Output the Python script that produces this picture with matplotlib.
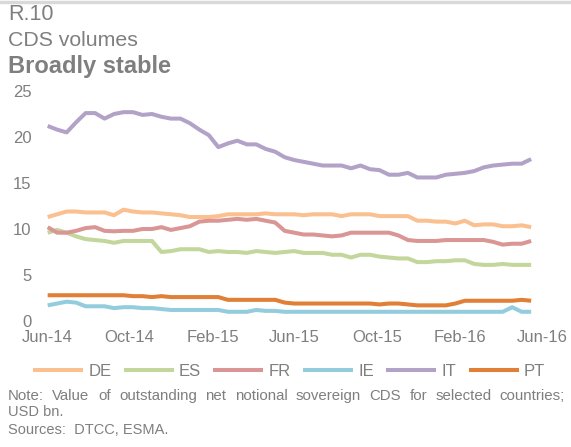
import matplotlib
matplotlib.use("Agg")
import matplotlib.pyplot as plt
import matplotlib.dates as mdates
import pandas as pd

# biweekly observations, Jun-14 to May-16
dates = pd.date_range("2014-06-02", periods=52, freq="14D")

de = [11.3, 11.6, 11.9, 11.9, 11.8, 11.8, 11.8, 11.5, 12.1, 11.9,
      11.8, 11.8, 11.7, 11.6, 11.5, 11.3, 11.3, 11.3, 11.4, 11.6,
      11.6, 11.6, 11.6, 11.7, 11.6, 11.6, 11.6, 11.5, 11.6, 11.6,
      11.6, 11.4, 11.6, 11.6, 11.6, 11.4, 11.4, 11.4, 11.4, 10.9,
      10.9, 10.8, 10.8, 10.6, 10.9, 10.4, 10.5, 10.5, 10.3, 10.3,
      10.4, 10.2]
es = [9.6, 9.9, 9.6, 9.2, 8.9, 8.8, 8.7, 8.5, 8.7, 8.7,
      8.7, 8.7, 7.5, 7.6, 7.8, 7.8, 7.8, 7.5, 7.6, 7.5,
      7.5, 7.4, 7.6, 7.5, 7.4, 7.5, 7.6, 7.4, 7.4, 7.4,
      7.2, 7.2, 6.9, 7.2, 7.2, 7.0, 6.9, 6.8, 6.8, 6.4,
      6.4, 6.5, 6.5, 6.6, 6.6, 6.2, 6.1, 6.1, 6.2, 6.1,
      6.1, 6.1]
fr = [10.2, 9.6, 9.6, 9.8, 10.1, 10.2, 9.8, 9.75, 9.8, 9.8,
      10.0, 10.0, 10.2, 9.9, 10.1, 10.3, 10.8, 10.9, 10.9, 11.0,
      11.1, 11.0, 11.1, 10.9, 10.7, 9.8, 9.6, 9.4, 9.4, 9.3,
      9.2, 9.3, 9.6, 9.6, 9.6, 9.6, 9.6, 9.3, 8.8, 8.7,
      8.7, 8.7, 8.8, 8.8, 8.8, 8.8, 8.8, 8.6, 8.3, 8.4,
      8.4, 8.7]
ie = [1.7, 1.9, 2.1, 2.0, 1.6, 1.6, 1.6, 1.4, 1.5, 1.5,
      1.4, 1.4, 1.3, 1.2, 1.2, 1.2, 1.2, 1.2, 1.2, 1.0,
      1.0, 1.0, 1.2, 1.1, 1.1, 1.0, 1.0, 1.0, 1.0, 1.0,
      1.0, 1.0, 1.0, 1.0, 1.0, 1.0, 1.0, 1.0, 1.0, 1.0,
      1.0, 1.0, 1.0, 1.0, 1.0, 1.0, 1.0, 1.0, 1.0, 1.5,
      1.0, 1.0]
it = [21.2, 20.8, 20.5, 21.6, 22.6, 22.6, 22.0, 22.5, 22.7, 22.7,
      22.4, 22.5, 22.2, 22.0, 22.0, 21.5, 20.8, 20.2, 18.9, 19.3,
      19.6, 19.2, 19.2, 18.7, 18.4, 17.8, 17.5, 17.3, 17.1, 16.9,
      16.9, 16.9, 16.6, 16.9, 16.5, 16.4, 15.9, 15.9, 16.1, 15.6,
      15.6, 15.6, 15.9, 16.0, 16.1, 16.3, 16.7, 16.9, 17.0, 17.1,
      17.1, 17.6]
pt = [2.8, 2.8, 2.8, 2.8, 2.8, 2.8, 2.8, 2.8, 2.8, 2.7,
      2.7, 2.6, 2.7, 2.6, 2.6, 2.6, 2.6, 2.6, 2.6, 2.3,
      2.3, 2.3, 2.3, 2.3, 2.3, 2.0, 1.9, 1.9, 1.9, 1.9,
      1.9, 1.9, 1.9, 1.9, 1.9, 1.8, 1.9, 1.9, 1.8, 1.7,
      1.7, 1.7, 1.7, 1.9, 2.2, 2.2, 2.2, 2.2, 2.2, 2.2,
      2.3, 2.2]

series = [("DE", de, "#FAC090"), ("ES", es, "#C3D69B"), ("FR", fr, "#D99694"),
          ("IE", ie, "#93CDDD"), ("IT", it, "#B3A2C7"), ("PT", pt, "#E07F35")]

grey = "#7F7F7F"
plt.rcParams["font.family"] = ["Liberation Sans", "DejaVu Sans"]

fig = plt.figure(figsize=(5.71, 4.47), dpi=100)

# thin grey rule along the top
fig.add_artist(plt.Line2D([0, 1], [0.995, 0.995], color="#D9D9D9", lw=2.5))

fig.text(8 / 571, 1 - 14 / 447, "R.10", color=grey, fontsize=15.5, va="center")
fig.text(8 / 571, 1 - 40 / 447, "CDS volumes", color=grey, fontsize=15.3, va="center")
fig.text(8 / 571, 1 - 66 / 447, "Broadly stable", color=grey, fontsize=17,
         fontweight="bold", va="center")

ax = fig.add_axes([47 / 571, 1 - 321 / 447, 495 / 571, 230 / 447])
for name, vals, col in series:
    ax.plot(dates, vals, color=col, lw=2.9, label=name, clip_on=False,
            solid_capstyle="butt")

ax.set_ylim(0, 25)
ax.set_yticks([0, 5, 10, 15, 20, 25])
ax.set_xlim(pd.Timestamp("2014-06-01"), pd.Timestamp("2016-06-01"))
ax.xaxis.set_major_locator(mdates.MonthLocator(bymonth=[2, 6, 10]))
ax.xaxis.set_major_formatter(mdates.DateFormatter("%b-%y"))
for s in ax.spines.values():
    s.set_visible(False)
ax.tick_params(axis="y", length=0, pad=11, labelsize=12, labelcolor=grey)
ax.tick_params(axis="x", length=0, pad=6.5, labelsize=12, labelcolor=grey)

fig.legend(loc="center", bbox_to_anchor=(289 / 571, 1 - 371 / 447), ncol=6,
           frameon=False, fontsize=12, handlelength=3.0, handletextpad=0.3,
           columnspacing=0.75, labelcolor=grey)

# note line is justified across the full width in the original
note = "Note: Value of outstanding net notional sovereign CDS for selected countries;"
words = note.split()
renderer = fig.canvas.get_renderer()
x0, x1 = 8, 565
items = []
total = 0
for w in words:
    t = fig.text(0, 1 - 396 / 447, w, color=grey, fontsize=10.8, va="center")
    wd = t.get_window_extent(renderer).width
    items.append((t, wd))
    total += wd
gap = (x1 - x0 - total) / (len(words) - 1)
x = x0
for t, wd in items:
    t.set_x(x / 571)
    x += wd + gap

fig.text(8 / 571, 1 - 412 / 447, "USD bn.", color=grey, fontsize=10.5, va="center")
fig.text(8 / 571, 1 - 430 / 447, "Sources:  DTCC, ESMA.", color=grey, fontsize=10.5,
         va="center")

fig.savefig("out.png", dpi=100)
